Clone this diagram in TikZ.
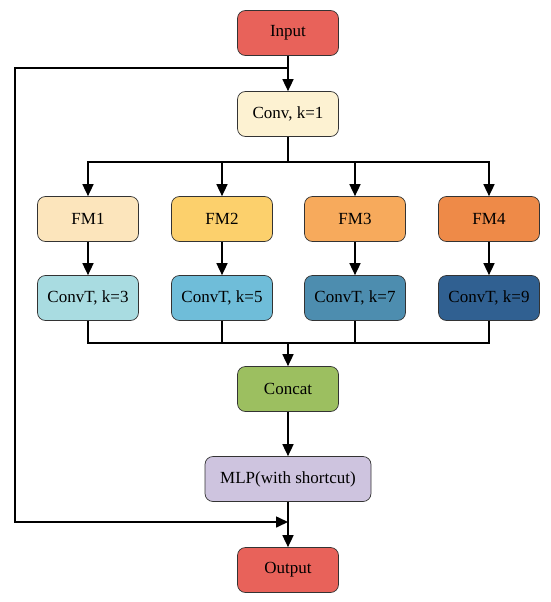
\documentclass[tikz,border=0pt]{standalone}
\usepackage{fontspec}
\setmainfont{Liberation Serif}
\usetikzlibrary{arrows.meta,positioning}

\definecolor{inred}{HTML}{E8625A}
\definecolor{convcream}{HTML}{FDF2D2}
\definecolor{fmA}{HTML}{FCE5BC}
\definecolor{fmB}{HTML}{FCD06C}
\definecolor{fmC}{HTML}{F7AA5C}
\definecolor{fmD}{HTML}{EE8A48}
\definecolor{ctA}{HTML}{A9DCE1}
\definecolor{ctB}{HTML}{6FBDD9}
\definecolor{ctC}{HTML}{4D8DAF}
\definecolor{ctD}{HTML}{306091}
\definecolor{catgreen}{HTML}{9CBF60}
\definecolor{mlpviolet}{HTML}{CEC4DF}

\tikzset{
  box/.style={draw=black!80, line width=0.7pt, rounded corners=8pt,
    minimum width=101pt, minimum height=45pt, inner sep=2pt,
    font=\fontsize{17}{20}\selectfont},
  link/.style={line width=1.6pt, draw=black},
  arr/.style={link, -{Triangle[length=12pt,width=11pt]}}
}

\begin{document}
\begin{tikzpicture}[x=1pt,y=-1pt]
    \useasboundingbox (0,0) rectangle (550,602);
    \node[box, fill=inred] (in) at (288,33) {Input};
    \node[box, fill=convcream] (conv) at (288,114) {Conv, k=1};
    \node[box, fill=fmA] (fm1) at (88,219) {FM1};
    \node[box, fill=fmB] (fm2) at (222,219) {FM2};
    \node[box, fill=fmC] (fm3) at (355,219) {FM3};
    \node[box, fill=fmD] (fm4) at (489,219) {FM4};
    \node[box, fill=ctA] (ct1) at (88,298) {ConvT, k=3};
    \node[box, fill=ctB] (ct2) at (222,298) {ConvT, k=5};
    \node[box, fill=ctC] (ct3) at (355,298) {ConvT, k=7};
    \node[box, fill=ctD] (ct4) at (489,298) {ConvT, k=9};
    \node[box, fill=catgreen] (cat) at (288,389) {Concat};
    \node[box, fill=mlpviolet, minimum width=166pt] (mlp) at (288,479) {MLP(with shortcut)};
    \node[box, fill=inred] (out) at (288,570) {Output};

    \coordinate (tap) at (288,68);
    \coordinate (sc1) at (15,68);
    \coordinate (sc2) at (15,522);
    \coordinate (join) at (288,522);
    \coordinate (split) at (288,162);
    \coordinate (merge) at (288,343);

    \draw[arr] (in) -- (conv);
    \draw[arr] (tap) -- (sc1) -- (sc2) -- (join);
    \draw[link] (conv) -- (split);
    \foreach \i in {1,...,4} {
      \draw[arr] (split) -| (fm\i.north);
      \draw[arr] (fm\i) -- (ct\i);
      \draw[link] (ct\i.south) |- (merge);
    }
    \draw[arr] (merge) -- (cat);
    \draw[arr] (cat) -- (mlp);
    \draw[arr] (mlp) -- (out);
  \end{tikzpicture}
\end{document}
